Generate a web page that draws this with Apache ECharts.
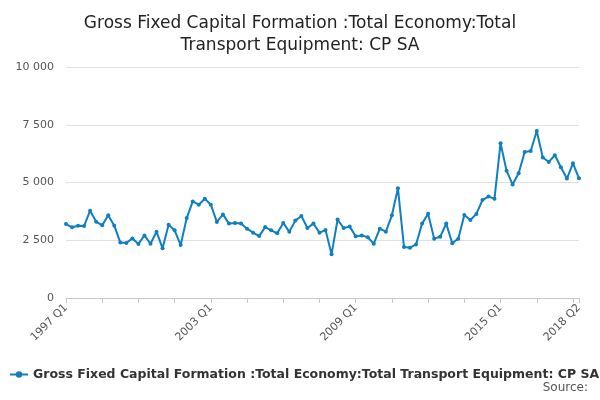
<!DOCTYPE html>
<html>
<head>
<meta charset="utf-8">
<script src="https://cdn.jsdelivr.net/npm/echarts@6/dist/echarts.min.js"></script>
<style>html,body{margin:0;padding:0;background:#fff}#c{width:600px;height:400px}</style>
</head>
<body>
<div id="c"></div>
<script>
// quarterly values, 1997 Q1 .. 2018 Q2
const values = [
  3200, 3060, 3130, 3120, 3780, 3300, 3150, 3580, 3130, 2400, 2380, 2580,
  2340, 2710, 2350, 2870, 2150, 3170, 2930, 2290, 3460, 4180, 4040, 4300,
  4040, 3290, 3620, 3220, 3250, 3230, 3000, 2830, 2680, 3070, 2930, 2800,
  3250, 2870, 3350, 3550, 3030, 3220, 2830, 2940, 1890, 3400, 3030, 3090,
  2670, 2710, 2630, 2350, 3000, 2870, 3580, 4750, 2210, 2180, 2320, 3220,
  3650, 2570, 2650, 3220, 2370, 2570, 3590, 3380, 3640, 4240, 4390, 4300,
  6700, 5510, 4910, 5400, 6320, 6360, 7230, 6080, 5890, 6180, 5660, 5170,
  5830, 5180
];
const categories = [];
for (let i = 0; i < values.length; i++) {
  categories.push((1997 + Math.floor(i / 4)) + ' Q' + (i % 4 + 1));
}
const seriesName = 'Gross Fixed Capital Formation :Total Economy:Total Transport Equipment: CP SA';

const chart = echarts.init(document.getElementById('c'));
chart.setOption({
  animation: false,
  title: {
    text: 'Gross Fixed Capital Formation :Total Economy:Total\nTransport Equipment: CP SA',
    left: 'center', top: 8,
    textStyle: {fontFamily: 'DejaVu Sans', fontSize: 17, fontWeight: 'normal', color: '#222', lineHeight: 22}
  },
  graphic: [{
    type: 'text', right: 12, top: 382,
    style: {text: 'Source:', fontFamily: 'DejaVu Sans', fontSize: 12, fill: '#555'}
  }],
  legend: {
    bottom: 14, left: 4, itemWidth: 18, itemHeight: 8,
    textStyle: {fontFamily: 'DejaVu Sans', fontSize: 12.5, fontWeight: 'bold', color: '#333'}
  },
  grid: {left: 66, right: 21, top: 67, bottom: 102},
  xAxis: {
    type: 'category', data: categories, boundaryGap: false,
    axisLine: {lineStyle: {color: '#c0c8d8'}},
    axisTick: {interval: (i) => i % 6 === 0 || i === values.length - 1, lineStyle: {color: '#c0c8d8'}},
    axisLabel: {
      interval: (i) => i % 24 === 0 || i === values.length - 1,
      rotate: 45, color: '#555', fontFamily: 'DejaVu Sans', fontSize: 11
    }
  },
  yAxis: {
    type: 'value', min: 0, max: 10000, interval: 2500,
    axisLine: {show: false}, axisTick: {show: false},
    splitLine: {lineStyle: {color: '#e0e0e0'}},
    axisLabel: {
      color: '#555', fontFamily: 'DejaVu Sans', fontSize: 11, margin: 12,
      formatter: (v) => String(v).replace(/\B(?=(\d{3})+(?!\d))/g, ' ')
    }
  },
  series: [{
    name: seriesName, type: 'line', data: values,
    symbol: 'circle', symbolSize: 4, showAllSymbol: true,
    lineStyle: {color: '#0f7fc0', width: 2},
    itemStyle: {color: '#0f7fc0'}
  }]
});
</script>
</body>
</html>
